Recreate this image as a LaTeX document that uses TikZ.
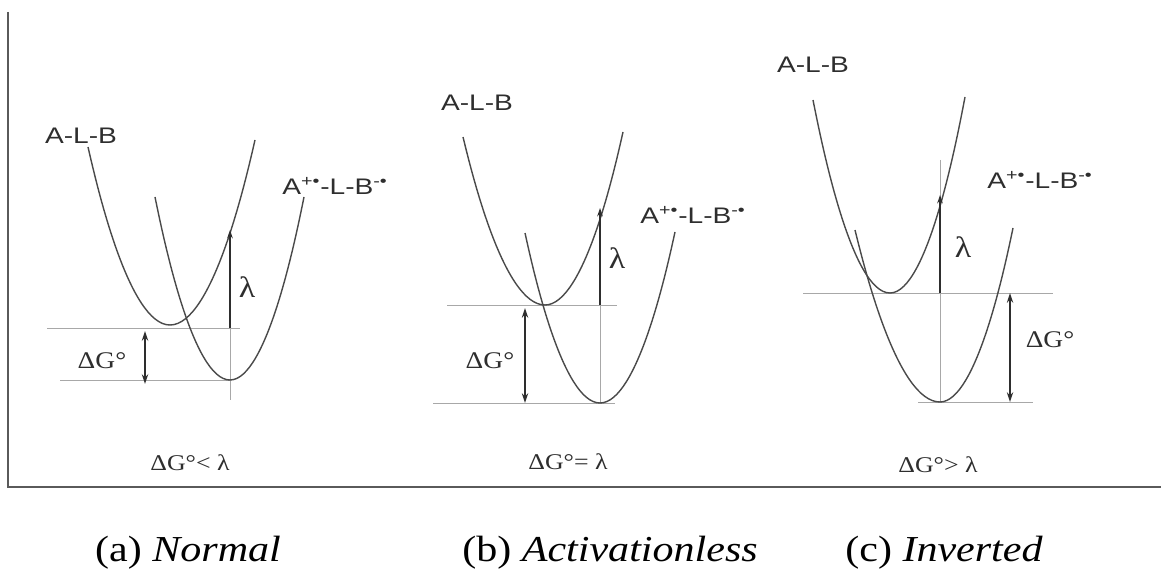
\documentclass[tikz,border=0pt]{standalone}
\usepackage{fontspec}
\setmainfont{Liberation Serif}[FakeStretch=1.15]
\newfontfamily\labelfont{Liberation Sans}[FakeStretch=1.25]
\usepackage{tikz}
\usetikzlibrary{arrows.meta,positioning}
\definecolor{mkcurve}{HTML}{4A4A4A}
\definecolor{mkguide}{HTML}{A8A8A8}
\definecolor{mkdark}{HTML}{2E2E2E}
\definecolor{mkframe}{HTML}{5A5A5A}
\tikzset{
 curve/.style={draw=mkcurve, line width=1pt},
 guide/.style={draw=mkguide, line width=0.6pt},
 larrow/.style={-{Stealth[length=6pt,width=4pt]}, draw=mkdark, line width=0.8pt},
 garrow/.style={{Stealth[length=7pt,width=4.5pt]}-{Stealth[length=7pt,width=4.5pt]}, draw=mkdark, line width=1.1pt},
 frameline/.style={draw=mkframe, line width=1.2pt},
 statelbl/.style={font=\labelfont\fontsize{16}{18}\selectfont, text=mkdark, inner sep=1pt},
 gaplbl/.style={font=\fontsize{17}{19}\selectfont, text=mkdark, inner sep=1pt},
 lamlbl/.style={font=\fontsize{21}{23}\selectfont, text=mkdark, inner sep=1pt},
 condlbl/.style={font=\fontsize{16}{18}\selectfont, text=mkdark, inner sep=1pt},
 caplbl/.style={font=\fontsize{26}{30}\selectfont, text=black, inner sep=1pt},
}
\newcommand{\radpair}{A\textsuperscript{+•}-L-B\textsuperscript{-•}}

\begin{document}
\begin{tikzpicture}[x=0.025cm,y=-0.025cm]
\useasboundingbox (0,0) rectangle (1161,583);

% ,  Frame , , , , , , , , , , , , , , , , , , , , , , , ,
\coordinate (ftop) at (8,12);
\coordinate (fcorner) at (8,487);
\coordinate (fright) at (1161,487);
\draw[frameline] (ftop) -- (fcorner) -- (fright);

% ,  (a) Normal , , , , , , , , , , , , , , , , , , , , , , 
\draw[guide] (47,328) -- (240,328);
\draw[guide] (60,380) -- (230,380);
\draw[guide] (230,328) -- (230,400);
\draw[curve] (88,147) parabola bend (170,325) (255,140);
\draw[curve] (155,197) parabola bend (230,380) (304,197);

\coordinate (a-lo) at (230,328);
\coordinate (a-hi) at (230,230);
\draw[larrow] (a-lo) -- (a-hi);
\coordinate (a-g1) at (145,331);
\coordinate (a-g2) at (145,384);
\draw[garrow] (a-g1) -- (a-g2);

\node[statelbl] (alb-a) at (81,136) {A-L-B};
\node[statelbl] (cs-a) at (335,186) {\radpair};
\node[lamlbl] (lam-a) at (247,287) {λ};
\node[gaplbl] (dg-a) at (102,361) {ΔG°};
\node[condlbl] (cond-a) at (190,463) {ΔG°< λ};

% ,  (b) Activationless , , , , , , , , , , , , , , , , , -
\draw[guide] (447,305) -- (617,305);
\draw[guide] (433,403) -- (615,403);
\draw[guide] (600,305) -- (600,403);
\draw[curve] (463,137) parabola bend (545,305) (623,132);
\draw[curve] (525,233) parabola bend (600,403) (675,232);

\coordinate (b-lo) at (600,305);
\coordinate (b-hi) at (600,208);
\draw[larrow] (b-lo) -- (b-hi);
\coordinate (b-g1) at (525,308);
\coordinate (b-g2) at (525,403);
\draw[garrow] (b-g1) -- (b-g2);

\node[statelbl] (alb-b) at (477,103) {A-L-B};
\node[statelbl] (cs-b) at (693,215) {\radpair};
\node[lamlbl] (lam-b) at (617,258) {λ};
\node[gaplbl] (dg-b) at (490,361) {ΔG°};
\node[condlbl] (cond-b) at (568,462) {ΔG°= λ};

% ,  (c) Inverted , , , , , , , , , , , , , , , , , , , , 
\draw[guide] (803,293) -- (1053,293);
\draw[guide] (918,402) -- (1033,402);
\draw[guide] (940,160) -- (940,402);
\draw[curve] (813,100) parabola bend (890,293) (965,97);
\draw[curve] (855,230) parabola bend (940,402) (1013,228);

\coordinate (c-lo) at (940,293);
\coordinate (c-hi) at (940,195);
\draw[larrow] (c-lo) -- (c-hi);
\coordinate (c-g1) at (1010,293);
\coordinate (c-g2) at (1010,402);
\draw[garrow] (c-g1) -- (c-g2);

\node[statelbl] (alb-c) at (813,65) {A-L-B};
\node[statelbl] (cs-c) at (1040,180) {\radpair};
\node[lamlbl] (lam-c) at (963,247) {λ};
\node[gaplbl] (dg-c) at (1050,340) {ΔG°};
\node[condlbl] (cond-c) at (938,465) {ΔG°> λ};

% ,  Captions , , , , , , , , , , , , , , , , , , , , , , 
\node[caplbl] (cap-a) at (188,553) {(a) \textit{Normal}};
\node[caplbl] (cap-b) at (610,553) {(b) \textit{Activationless}};
\node[caplbl] (cap-c) at (944,553) {(c) \textit{Inverted}};

\end{tikzpicture}
\end{document}
